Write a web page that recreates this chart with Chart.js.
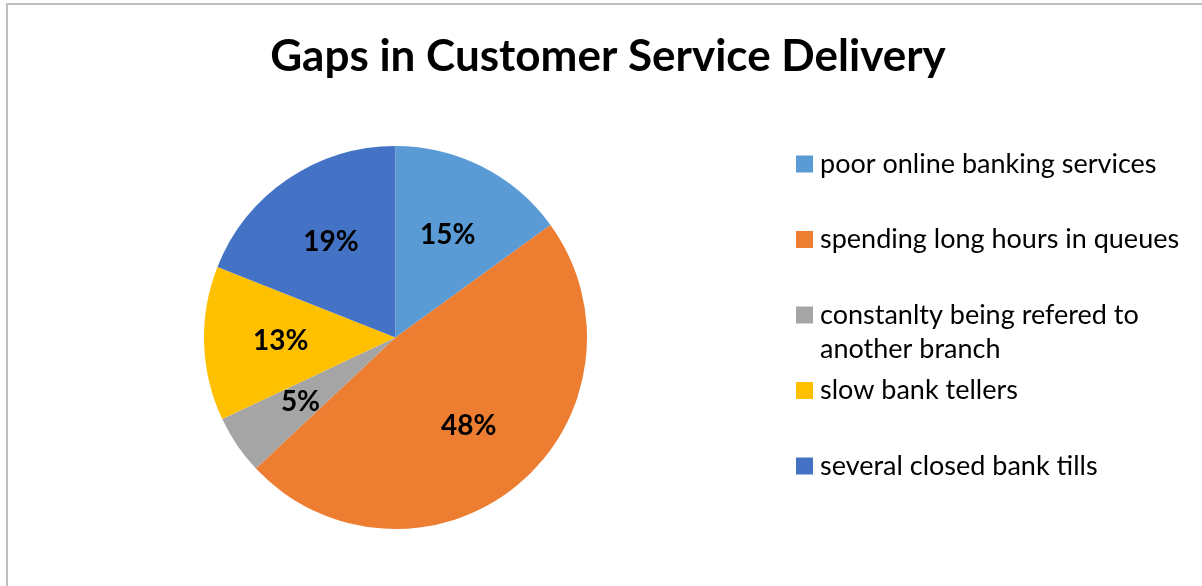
<!DOCTYPE html>
<html>
<head>
<meta charset="utf-8">
<title>Gaps in Customer Service Delivery</title>
<script src="https://cdn.jsdelivr.net/npm/chart.js@4.4.1/dist/chart.umd.min.js"></script>
<style>
  html, body { margin: 0; padding: 0; background: #fff; }
  #wrap { width: 1202px; height: 586px; position: relative; overflow: hidden; }
</style>
</head>
<body>
<div id="wrap"><canvas id="gapsChart" width="1202" height="586"></canvas></div>
<script>
// categories and shares (percent)
const categories = [
  'poor online banking services',
  'spending long hours in queues',
  'constanlty being refered to another branch',
  'slow bank tellers',
  'several closed bank tills'
];
const shares = [15, 48, 5, 13, 19];
const sliceColors = ['#5B9BD5', '#ED7D31', '#A5A5A5', '#FFC000', '#4472C4'];
const chartTitle = 'Gaps in Customer Service Delivery';

const FONT = 'Lato, "Open Sans", sans-serif';

/* ---------- frame, title, slice labels, legend ---------- */
const decorations = {
  id: 'decorations',
  beforeDraw(chart) {
    const ctx = chart.ctx;
    ctx.save();
    ctx.fillStyle = '#fff';
    ctx.fillRect(0, 0, chart.width, chart.height);
    // outer frame (runs off the right / bottom)
    ctx.strokeStyle = '#bfbfbf';
    ctx.lineWidth = 2;
    ctx.strokeRect(7, 4, chart.width + 20, chart.height + 20);
    ctx.restore();
  },
  afterDatasetsDraw(chart) {
    const ctx = chart.ctx;
    ctx.save();

    // title
    ctx.fillStyle = '#000';
    ctx.font = 'bold 44px ' + FONT;
    ctx.textAlign = 'center';
    ctx.textBaseline = 'alphabetic';
    ctx.fillText(chartTitle, 608, 71);

    // percentage labels inside the slices
    const meta = chart.getDatasetMeta(0);
    ctx.font = 'bold 28px ' + FONT;
    ctx.textBaseline = 'middle';
    meta.data.forEach((arc, i) => {
      const p = arc.getProps(['x', 'y', 'startAngle', 'endAngle', 'outerRadius'], true);
      const mid = (p.startAngle + p.endAngle) / 2;
      const r = p.outerRadius * 0.6;
      ctx.fillText(shares[i] + '%', p.x + Math.cos(mid) * r, p.y + Math.sin(mid) * r);
    });

    // legend on the right, one slot per entry, long labels wrap
    const items = Chart.overrides.pie.plugins.legend.labels.generateLabels(chart);
    const boxX = 796, textX = 820, firstY = 164, slot = 75.5, lineGap = 34, maxW = 375;
    ctx.textAlign = 'left';
    ctx.font = '27px ' + FONT;
    items.forEach((item, i) => {
      const y = firstY + i * slot;
      ctx.fillStyle = item.fillStyle;
      ctx.fillRect(boxX, y - 8.5, 17, 17);
      ctx.fillStyle = '#000';
      const words = item.text.split(' ');
      const lines = [];
      let line = '';
      words.forEach(w => {
        const test = line ? line + ' ' + w : w;
        if (line && ctx.measureText(test).width > maxW) { lines.push(line); line = w; }
        else line = test;
      });
      lines.push(line);
      lines.forEach((l, k) => ctx.fillText(l, textX, y + k * lineGap));
    });

    ctx.restore();
  }
};

function drawChart() {
  new Chart(document.getElementById('gapsChart'), {
    type: 'pie',
    data: {
      labels: categories,
      datasets: [{
        data: shares,
        backgroundColor: sliceColors,
        borderWidth: 0
      }]
    },
    options: {
      responsive: false,
      animation: false,
      layout: { padding: { left: 204, right: 615, top: 146, bottom: 57 } },
      plugins: {
        legend: { display: false },
        title: { display: false },
        tooltip: { enabled: false }
      }
    },
    plugins: [decorations]
  });
}

if (document.fonts && document.fonts.load) {
  Promise.all([
    document.fonts.load('bold 44px Lato'),
    document.fonts.load('27px Lato')
  ]).then(drawChart, drawChart);
} else {
  drawChart();
}
</script>
</body>
</html>
